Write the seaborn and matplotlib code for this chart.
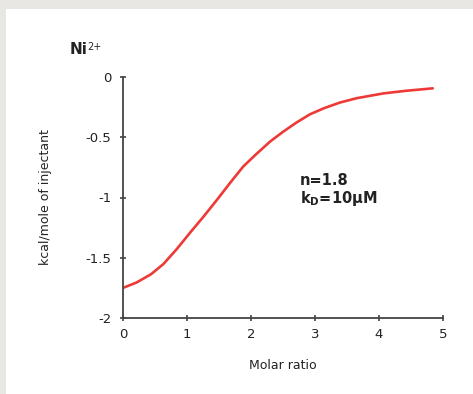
import matplotlib
matplotlib.use('Agg')
import matplotlib.pyplot as plt
import seaborn as sns
import pandas as pd
from matplotlib.patches import Rectangle

# ITC binding curve
molar_ratio = [0.0, 0.21, 0.44, 0.63, 0.84, 1.04, 1.25, 1.46, 1.67, 1.88, 2.09, 2.30,
               2.50, 2.71, 2.92, 3.15, 3.39, 3.65, 4.07, 4.43, 4.84]
heat = [-1.75, -1.706, -1.636, -1.553, -1.428, -1.297, -1.164, -1.025, -0.881, -0.742,
        -0.636, -0.535, -0.455, -0.378, -0.310, -0.257, -0.212, -0.176, -0.136, -0.114, -0.094]
x_ticks = [0, 1, 2, 3, 4, 5]
y_ticks = [0, -0.5, -1, -1.5, -2]
y_tick_labels = ['0', '-0.5', '-1', '-1.5', '-2']

df = pd.DataFrame({'Molar ratio': molar_ratio, 'kcal/mole of injectant': heat})

sns.set_style('white')
plt.rcParams['font.family'] = ['DejaVu Sans']
plt.rcParams['mathtext.fontset'] = 'dejavusans'

fig = plt.figure(figsize=(4.73, 3.94), dpi=100, facecolor='#e8e7e3')
# white panel with grey strip on top and left
fig.patches.append(Rectangle((6 / 473, 0), 1, 1 - 9 / 394, transform=fig.transFigure,
                             facecolor='white', edgecolor='none', zorder=-10))

ax = fig.add_axes([123 / 473, 1 - 318 / 394, 320 / 473, 241 / 394])
ax.set_zorder(5)
ax.set_facecolor('none')

sns.lineplot(data=df, x='Molar ratio', y='kcal/mole of injectant', ax=ax,
             color='#ee3a36', linewidth=1.9, sort=False)

ax.set_xlim(0, 5)
ax.set_ylim(-2, 0)
ax.set_xticks(x_ticks)
ax.set_yticks(y_ticks)
ax.set_yticklabels(y_tick_labels)

for s in ['top', 'right']:
    ax.spines[s].set_visible(False)
for s in ['left', 'bottom']:
    ax.spines[s].set_color('#444444')
    ax.spines[s].set_linewidth(1.3)

ax.tick_params(bottom=True, left=True, direction='inout', length=5, width=1.2,
               color='#444444', labelsize=9.5, labelcolor='#222222', pad=5)
ax.tick_params(axis='y', pad=6)

ax.set_xlabel('Molar ratio', fontsize=9, color='#222222')
ax.set_ylabel('kcal/mole of injectant', fontsize=9, color='#222222')
ax.xaxis.set_label_coords(0.5, -0.17)
ax.yaxis.set_label_coords(-0.222, 0.5)

ax.text(-0.168, 1.115, 'Ni', transform=ax.transAxes, fontsize=11,
        fontweight='bold', color='#222222', va='center')
ax.text(-0.113, 1.125, '2+', transform=ax.transAxes, fontsize=7,
        color='#222222', va='center')
ax.text(0.553, 0.57, 'n=1.8', transform=ax.transAxes, fontsize=10.5,
        fontweight='bold', color='#222222', va='center')
ax.text(0.553, 0.495, r'k$_\mathbf{D}$=10μM', transform=ax.transAxes, fontsize=10.5,
        fontweight='bold', color='#222222', va='center')

fig.savefig('out.png', dpi=100, facecolor=fig.get_facecolor())
